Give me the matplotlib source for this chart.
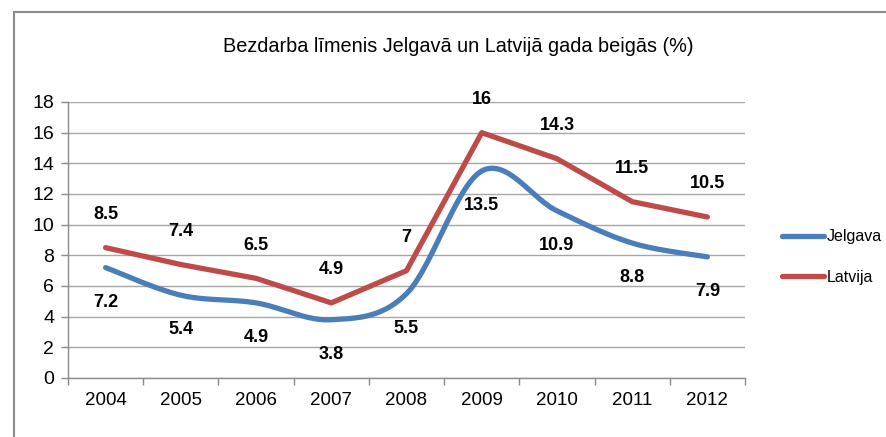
import numpy as np
import matplotlib
matplotlib.use("Agg")
import matplotlib.pyplot as plt
from matplotlib.patches import Rectangle

years = ["2004", "2005", "2006", "2007", "2008", "2009", "2010", "2011", "2012"]
jelgava = [7.2, 5.4, 4.9, 3.8, 5.5, 13.5, 10.9, 8.8, 7.9]
latvija = [8.5, 7.4, 6.5, 4.9, 7.0, 16.0, 14.3, 11.5, 10.5]
yticks = [0, 2, 4, 6, 8, 10, 12, 14, 16, 18]

plt.rcParams["font.family"] = ["Liberation Sans", "DejaVu Sans"]


def smooth(x, y, n=30):
    # Excel-like smoothed line: cubic Bezier with Catmull-Rom control points
    p = np.column_stack([x, y]).astype(float)
    p = np.vstack([p[0], p, p[-1]])
    out = []
    for i in range(1, len(p) - 2):
        p0, p1, p2, p3 = p[i - 1], p[i], p[i + 1], p[i + 2]
        c1 = p1 + (p2 - p0) / 6
        c2 = p2 - (p3 - p1) / 6
        t = np.linspace(0, 1, n)[:, None]
        seg = ((1 - t) ** 3) * p1 + 3 * ((1 - t) ** 2) * t * c1 + 3 * (1 - t) * t ** 2 * c2 + t ** 3 * p2
        out.append(seg if i == 1 else seg[1:])
    out = np.vstack(out)
    return out[:, 0], out[:, 1]


fig = plt.figure(figsize=(8.86, 4.37), dpi=100)
fig.patches.append(Rectangle((14 / 886, -0.1), 1.2, (437 - 12) / 437 + 0.1,
                             transform=fig.transFigure, fill=False,
                             edgecolor="#8c8c8c", linewidth=1.5))

ax = fig.add_axes([68 / 886, 59 / 437, 677 / 886, 276 / 437])
x = np.arange(len(years))

blue = "#4a7ebb"
red = "#be4b48"

xs, ys = smooth(x, jelgava)
ax.plot(xs, ys, color=blue, linewidth=3.8, solid_capstyle="round",
        solid_joinstyle="round", label="Jelgava", zorder=3)
# the Latvija series is drawn as a plain polyline in the reference
ax.plot(x, latvija, color=red, linewidth=3.8, solid_capstyle="round",
        solid_joinstyle="round", label="Latvija", zorder=3)

for xi, v in zip(x, latvija):
    ax.annotate(f"{v:g}", (xi, v), xytext=(0, 24), textcoords="offset points",
                ha="center", va="center", fontsize=13, fontweight="bold", color="black")
for xi, v in zip(x, jelgava):
    ax.annotate(f"{v:g}", (xi, v), xytext=(0, -25), textcoords="offset points",
                ha="center", va="center", fontsize=13, fontweight="bold", color="black")

ax.set_xlim(-0.5, len(years) - 0.5)
ax.set_ylim(0, 18)
ax.set_yticks(yticks)
ax.set_yticklabels([str(t) for t in yticks])
ax.set_xticks(x)
ax.set_xticklabels(years)
ax.set_xticks(np.arange(-0.5, len(years)), minor=True)
ax.tick_params(axis="x", which="major", length=0, pad=10, labelsize=13.5)
ax.tick_params(axis="x", which="minor", length=5, color="#8c8c8c", width=1)
ax.tick_params(axis="y", length=5, color="#8c8c8c", width=1, labelsize=14, pad=5)
ax.yaxis.grid(True, color="#a6a6a6", linewidth=1)
ax.set_axisbelow(True)
for s in ["top", "right"]:
    ax.spines[s].set_visible(False)
for s in ["left", "bottom"]:
    ax.spines[s].set_color("#8c8c8c")
    ax.spines[s].set_linewidth(1)

fig.text(458 / 886, 1 - 47 / 437, "Bezdarba līmenis Jelgavā un Latvijā gada beigās (%)",
         ha="center", va="center", fontsize=14.3)

leg = fig.legend(loc="center left", bbox_to_anchor=(768 / 886, 1 - 257 / 437),
                 frameon=False, fontsize=11.5, handlelength=2.6, handletextpad=0.15,
                 labelspacing=1.6)

fig.savefig("out.png", dpi=100, facecolor="white")
